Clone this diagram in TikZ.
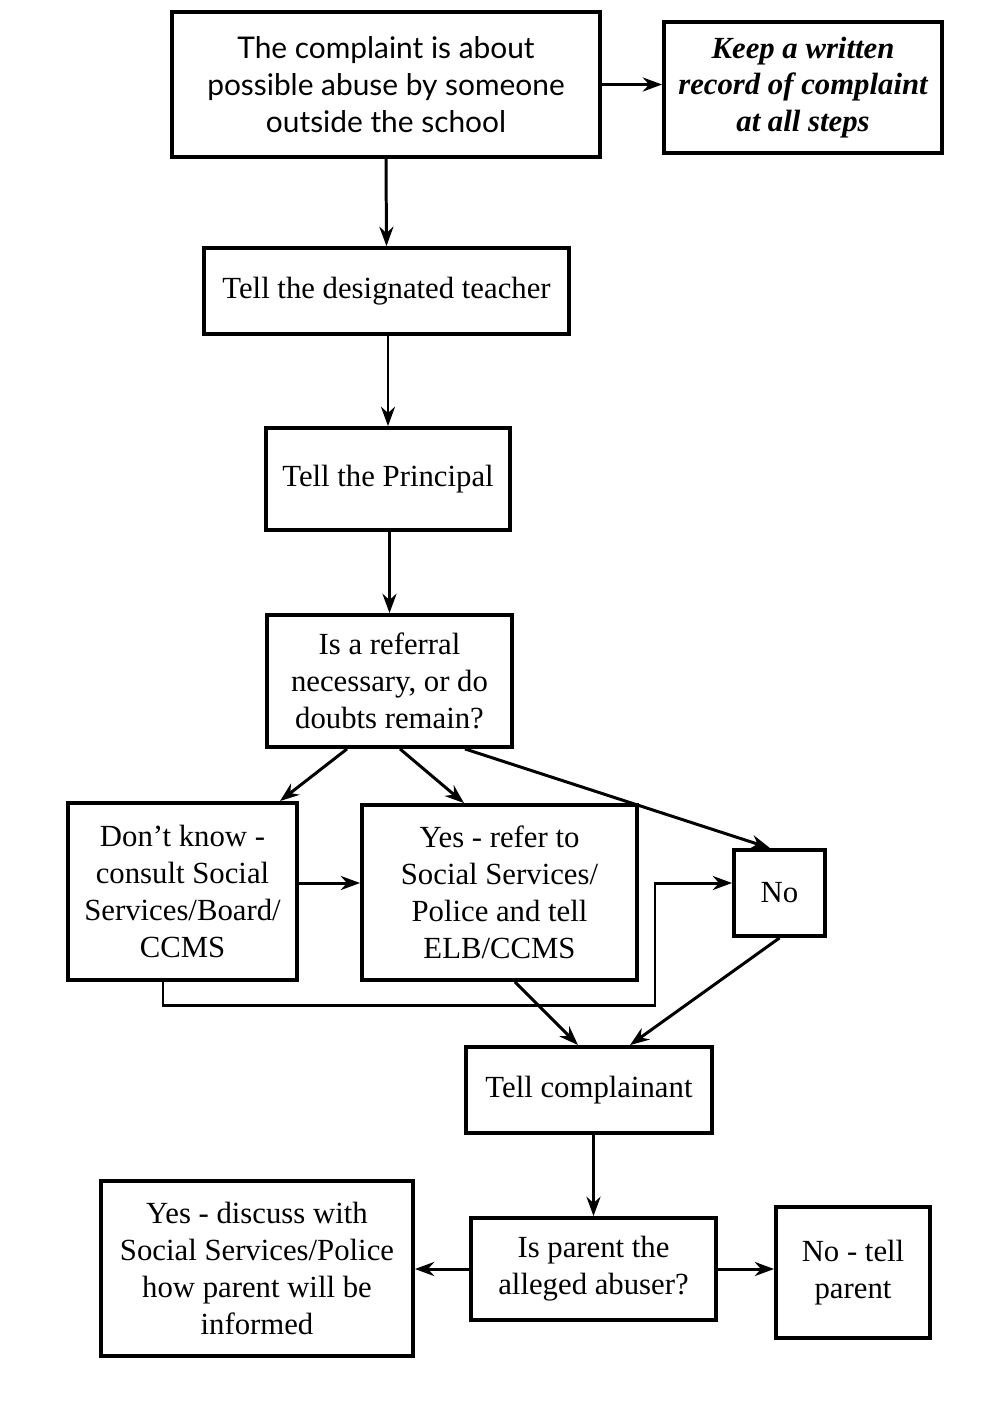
\documentclass[tikz,border=0pt]{standalone}
\usepackage{fontspec}
\setmainfont{Liberation Serif}
\newfontfamily\gillfont{Lato}
\usetikzlibrary{arrows.meta}

\begin{document}
\begin{tikzpicture}[x=0.02cm, y=-0.02cm,
  every node/.style = {shape=rectangle, draw, line width=2.2pt,
    align=center, inner sep=2pt, font=\fontsize{17.5}{21}\selectfont},
  boxsize/.style 2 args = {minimum width=#1*0.02cm, minimum height=#2*0.02cm},
  link/.style = {line width=1.7pt, -{Stealth[length=11pt,width=8pt]}}]
  \useasboundingbox (0,0) rectangle (987,1414);
  \node [boxsize={428}{145}, font=\gillfont\fontsize{17}{21}\selectfont]
    (complaint) at (386,84.5) {The complaint is about\\possible abuse by someone\\outside the school};
  \node [boxsize={278}{131}, font=\bfseries\itshape\fontsize{17.5}{21}\selectfont]
    (record) at (803,87.5) {Keep a written\\record of complaint\\at all steps};
  \node [boxsize={365}{86}] (teacher) at (386.5,291) {Tell the designated teacher};
  \node [boxsize={244}{102}] (principal) at (388,479) {Tell the Principal};
  \node [boxsize={245}{132}] (referral) at (389.5,681) {Is a referral\\necessary, or do\\doubts remain?};
  \node [boxsize={229}{177}] (dontknow) at (182.5,891.5) {Don't know -\\consult Social\\Services/Board/\\CCMS};
  \node [boxsize={275}{175}] (yesrefer) at (499.5,892.5) {Yes - refer to\\Social Services/\\Police and tell\\ELB/CCMS};
  \node [boxsize={91}{86}] (no) at (779.5,893) {No};
  \node [boxsize={246}{86}] (complainant) at (589,1090) {Tell complainant};
  \node [boxsize={245}{102}] (parent) at (593.5,1269) {Is parent the\\alleged abuser?};
  \node [boxsize={312}{175}] (discuss) at (257,1268.5) {Yes - discuss with\\Social Services/Police\\how parent will be\\informed};
  \node [boxsize={154}{131}] (tellparent) at (853,1272.5) {No - tell\\parent};
  \coordinate (bend) at (655,1005);

  \draw [link] (complaint.east) -- (complaint.east -| record.west);
  \draw [link] (complaint.south) -- (teacher.north);
  \draw [link] (teacher.south -| principal.north) -- (principal.north);
  \draw [link] (principal.south -| referral.north) -- (referral.north);
  \draw [link] ([xshift=-0.85cm]referral.south) -- ([xshift=1.95cm]dontknow.north);
  \draw [link] ([xshift=0.21cm]referral.south) -- ([xshift=-0.71cm]yesrefer.north);
  \draw [link] ([xshift=1.51cm]referral.south) -- ([xshift=-0.19cm]no.north);
  \draw [link] ([yshift=0.17cm]dontknow.east) -- ([yshift=0.17cm]dontknow.east -| yesrefer.west);
  \draw [link] ([xshift=-0.39cm]dontknow.south) |- (bend) |- ([yshift=0.2cm]no.west);
  \draw [link] ([xshift=0.31cm]yesrefer.south) -- ([xshift=-0.22cm]complainant.north);
  \draw [link] (no.south) -- ([xshift=0.82cm]complainant.north);
  \draw [link] (parent.north |- complainant.south) -- (parent.north);
  \draw [link] (parent.west) -- (parent.west -| discuss.east);
  \draw [link] (parent.east) -- (parent.east -| tellparent.west);
\end{tikzpicture}
\end{document}
